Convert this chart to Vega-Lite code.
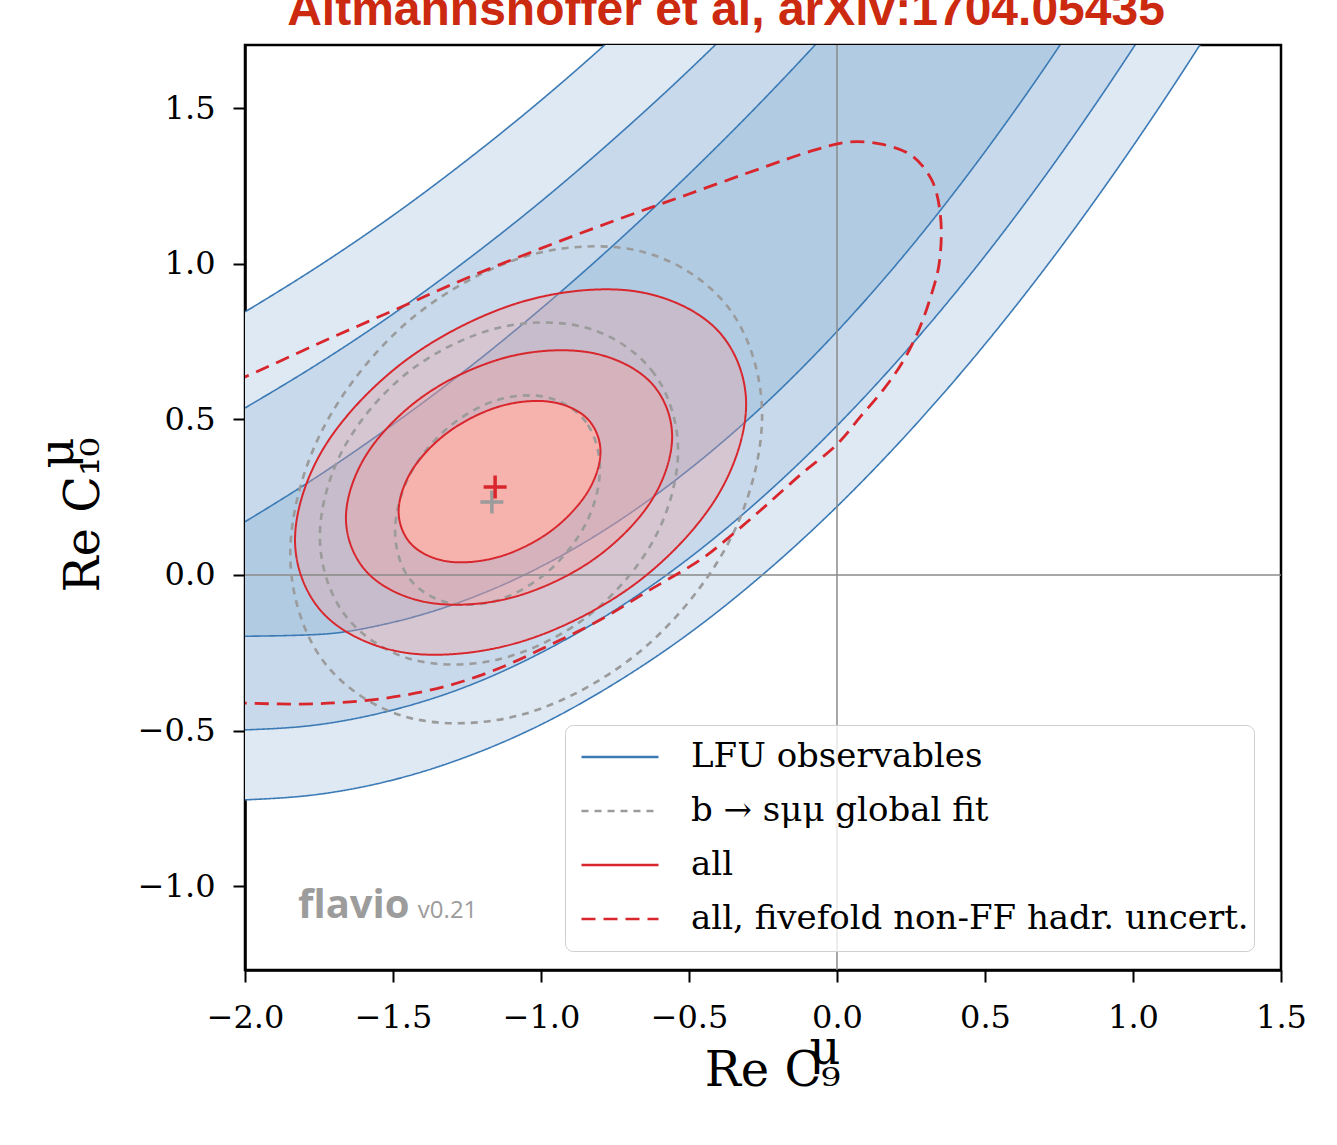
{
  "$schema": "https://vega.github.io/schema/vega-lite/v6.json",
  "width": 1036,
  "height": 925,
  "autosize": {"type": "none"},
  "padding": {"left": 245, "top": 45, "right": 56, "bottom": 175},
  "background": "white",
  "title": {
    "text": "Altmannshoffer et al, arXiv:1704.05435",
    "font": "Liberation Sans, Arial, sans-serif",
    "fontSize": 48,
    "fontWeight": "bold",
    "color": "#cc2a10",
    "anchor": "middle",
    "baseline": "alphabetic",
    "offset": 20,
    "dx": -37,
    "dy": 48
  },
  "config": {
    "view": {"stroke": "black", "strokeWidth": 2.5, "fill": "white"},
    "axis": {
      "labelFont": "DejaVu Serif", "labelFontSize": 32, "labelColor": "black",
      "labelFlush": false, "labelOverlap": false, "labelBound": false,
      "tickSize": 12, "tickWidth": 2, "tickColor": "black",
      "domain": true, "domainColor": "black", "domainWidth": 2.5,
      "grid": false, "zindex": 1,
      "titleFont": "DejaVu Serif", "titleFontSize": 48, "titleFontWeight": "normal", "titleColor": "black"
    },
    "legend": {
      "symbolType": "stroke", "symbolSize": 5929, "symbolStrokeWidth": 2.5,
      "clipHeight": 54, "rowPadding": 0, "padding": 5, "symbolOffset": 10,
      "labelFont": "DejaVu Serif", "labelFontSize": 34, "labelColor": "black",
      "labelOffset": 31, "labelLimit": 1000,
      "fillColor": "rgba(255,255,255,0.8)", "strokeColor": "#cfcfcf", "cornerRadius": 8
    }
  },
  "datasets": {
    "bands": [
      {"band": "outer", "x": -2.0, "y": -0.723, "y2": 0.846, "series": "LFU observables"},
      {"band": "outer", "x": -1.75, "y": -0.705, "y2": 0.994, "series": "LFU observables"},
      {"band": "outer", "x": -1.5, "y": -0.659, "y2": 1.156, "series": "LFU observables"},
      {"band": "outer", "x": -1.25, "y": -0.584, "y2": 1.334, "series": "LFU observables"},
      {"band": "outer", "x": -1.0, "y": -0.481, "y2": 1.526, "series": "LFU observables"},
      {"band": "outer", "x": -0.75, "y": -0.348, "y2": 1.734, "series": "LFU observables"},
      {"band": "outer", "x": -0.5, "y": -0.188, "y2": 1.956, "series": "LFU observables"},
      {"band": "outer", "x": -0.25, "y": 0.002, "y2": 2.194, "series": "LFU observables"},
      {"band": "outer", "x": 0.0, "y": 0.22, "y2": 2.446, "series": "LFU observables"},
      {"band": "outer", "x": 0.25, "y": 0.467, "y2": 2.714, "series": "LFU observables"},
      {"band": "outer", "x": 0.5, "y": 0.742, "y2": 2.996, "series": "LFU observables"},
      {"band": "outer", "x": 0.75, "y": 1.046, "y2": 3.294, "series": "LFU observables"},
      {"band": "outer", "x": 1.0, "y": 1.379, "y2": 3.606, "series": "LFU observables"},
      {"band": "outer", "x": 1.25, "y": 1.74, "y2": 3.934, "series": "LFU observables"},
      {"band": "outer", "x": 1.5, "y": 2.13, "y2": 4.276, "series": "LFU observables"},
      {"band": "middle", "x": -2.0, "y": -0.498, "y2": 0.537, "series": "LFU observables"},
      {"band": "middle", "x": -1.75, "y": -0.481, "y2": 0.681, "series": "LFU observables"},
      {"band": "middle", "x": -1.5, "y": -0.434, "y2": 0.839, "series": "LFU observables"},
      {"band": "middle", "x": -1.25, "y": -0.358, "y2": 1.013, "series": "LFU observables"},
      {"band": "middle", "x": -1.0, "y": -0.25, "y2": 1.201, "series": "LFU observables"},
      {"band": "middle", "x": -0.75, "y": -0.113, "y2": 1.405, "series": "LFU observables"},
      {"band": "middle", "x": -0.5, "y": 0.054, "y2": 1.623, "series": "LFU observables"},
      {"band": "middle", "x": -0.25, "y": 0.252, "y2": 1.857, "series": "LFU observables"},
      {"band": "middle", "x": 0.0, "y": 0.48, "y2": 2.105, "series": "LFU observables"},
      {"band": "middle", "x": 0.25, "y": 0.738, "y2": 2.369, "series": "LFU observables"},
      {"band": "middle", "x": 0.5, "y": 1.026, "y2": 2.647, "series": "LFU observables"},
      {"band": "middle", "x": 0.75, "y": 1.345, "y2": 2.941, "series": "LFU observables"},
      {"band": "middle", "x": 1.0, "y": 1.694, "y2": 3.249, "series": "LFU observables"},
      {"band": "middle", "x": 1.25, "y": 2.073, "y2": 3.573, "series": "LFU observables"},
      {"band": "middle", "x": 1.5, "y": 2.482, "y2": 3.911, "series": "LFU observables"},
      {"band": "inner", "x": -2.0, "y": -0.197, "y2": 0.171, "series": "LFU observables"},
      {"band": "inner", "x": -1.75, "y": -0.191, "y2": 0.32, "series": "LFU observables"},
      {"band": "inner", "x": -1.5, "y": -0.152, "y2": 0.484, "series": "LFU observables"},
      {"band": "inner", "x": -1.25, "y": -0.079, "y2": 0.662, "series": "LFU observables"},
      {"band": "inner", "x": -1.0, "y": 0.027, "y2": 0.856, "series": "LFU observables"},
      {"band": "inner", "x": -0.75, "y": 0.166, "y2": 1.065, "series": "LFU observables"},
      {"band": "inner", "x": -0.5, "y": 0.339, "y2": 1.289, "series": "LFU observables"},
      {"band": "inner", "x": -0.25, "y": 0.544, "y2": 1.527, "series": "LFU observables"},
      {"band": "inner", "x": 0.0, "y": 0.783, "y2": 1.781, "series": "LFU observables"},
      {"band": "inner", "x": 0.25, "y": 1.055, "y2": 2.05, "series": "LFU observables"},
      {"band": "inner", "x": 0.5, "y": 1.361, "y2": 2.334, "series": "LFU observables"},
      {"band": "inner", "x": 0.75, "y": 1.699, "y2": 2.632, "series": "LFU observables"},
      {"band": "inner", "x": 1.0, "y": 2.071, "y2": 2.946, "series": "LFU observables"},
      {"band": "inner", "x": 1.25, "y": 2.476, "y2": 3.275, "series": "LFU observables"},
      {"band": "inner", "x": 1.5, "y": 2.915, "y2": 3.619, "series": "LFU observables"}
    ],
    "ell": [
      {"id": "r1", "t": 0, "x": -0.799, "y": 0.396, "series": "all"},
      {"id": "r1", "t": 1, "x": -0.845, "y": 0.504, "series": "all"},
      {"id": "r1", "t": 2, "x": -0.970, "y": 0.557, "series": "all"},
      {"id": "r1", "t": 3, "x": -1.140, "y": 0.542, "series": "all"},
      {"id": "r1", "t": 4, "x": -1.311, "y": 0.461, "series": "all"},
      {"id": "r1", "t": 5, "x": -1.435, "y": 0.338, "series": "all"},
      {"id": "r1", "t": 6, "x": -1.481, "y": 0.204, "series": "all"},
      {"id": "r1", "t": 7, "x": -1.435, "y": 0.096, "series": "all"},
      {"id": "r1", "t": 8, "x": -1.311, "y": 0.043, "series": "all"},
      {"id": "r1", "t": 9, "x": -1.140, "y": 0.059, "series": "all"},
      {"id": "r1", "t": 10, "x": -0.970, "y": 0.139, "series": "all"},
      {"id": "r1", "t": 11, "x": -0.845, "y": 0.263, "series": "all"},
      {"id": "r2", "t": 0, "x": -0.557, "y": 0.445, "series": "all"},
      {"id": "r2", "t": 1, "x": -0.631, "y": 0.621, "series": "all"},
      {"id": "r2", "t": 2, "x": -0.833, "y": 0.715, "series": "all"},
      {"id": "r2", "t": 3, "x": -1.108, "y": 0.702, "series": "all"},
      {"id": "r2", "t": 4, "x": -1.384, "y": 0.584, "series": "all"},
      {"id": "r2", "t": 5, "x": -1.585, "y": 0.394, "series": "all"},
      {"id": "r2", "t": 6, "x": -1.659, "y": 0.183, "series": "all"},
      {"id": "r2", "t": 7, "x": -1.585, "y": 0.006, "series": "all"},
      {"id": "r2", "t": 8, "x": -1.384, "y": -0.088, "series": "all"},
      {"id": "r2", "t": 9, "x": -1.108, "y": -0.075, "series": "all"},
      {"id": "r2", "t": 10, "x": -0.833, "y": 0.043, "series": "all"},
      {"id": "r2", "t": 11, "x": -0.631, "y": 0.233, "series": "all"},
      {"id": "r3", "t": 0, "x": -0.307, "y": 0.549, "series": "all"},
      {"id": "r3", "t": 1, "x": -0.409, "y": 0.792, "series": "all"},
      {"id": "r3", "t": 2, "x": -0.688, "y": 0.913, "series": "all"},
      {"id": "r3", "t": 3, "x": -1.069, "y": 0.877, "series": "all"},
      {"id": "r3", "t": 4, "x": -1.450, "y": 0.695, "series": "all"},
      {"id": "r3", "t": 5, "x": -1.729, "y": 0.416, "series": "all"},
      {"id": "r3", "t": 6, "x": -1.831, "y": 0.113, "series": "all"},
      {"id": "r3", "t": 7, "x": -1.729, "y": -0.130, "series": "all"},
      {"id": "r3", "t": 8, "x": -1.450, "y": -0.251, "series": "all"},
      {"id": "r3", "t": 9, "x": -1.069, "y": -0.215, "series": "all"},
      {"id": "r3", "t": 10, "x": -0.688, "y": -0.033, "series": "all"},
      {"id": "r3", "t": 11, "x": -0.409, "y": 0.246, "series": "all"},
      {"id": "g1", "t": 0, "x": -0.801, "y": 0.342, "series": "b → sμμ global fit"},
      {"id": "g1", "t": 1, "x": -0.847, "y": 0.490, "series": "b → sμμ global fit"},
      {"id": "g1", "t": 2, "x": -0.974, "y": 0.570, "series": "b → sμμ global fit"},
      {"id": "g1", "t": 3, "x": -1.147, "y": 0.563, "series": "b → sμμ global fit"},
      {"id": "g1", "t": 4, "x": -1.320, "y": 0.469, "series": "b → sμμ global fit"},
      {"id": "g1", "t": 5, "x": -1.447, "y": 0.315, "series": "b → sμμ global fit"},
      {"id": "g1", "t": 6, "x": -1.493, "y": 0.140, "series": "b → sμμ global fit"},
      {"id": "g1", "t": 7, "x": -1.447, "y": -0.008, "series": "b → sμμ global fit"},
      {"id": "g1", "t": 8, "x": -1.320, "y": -0.088, "series": "b → sμμ global fit"},
      {"id": "g1", "t": 9, "x": -1.147, "y": -0.081, "series": "b → sμμ global fit"},
      {"id": "g1", "t": 10, "x": -0.974, "y": 0.013, "series": "b → sμμ global fit"},
      {"id": "g1", "t": 11, "x": -0.847, "y": 0.168, "series": "b → sμμ global fit"},
      {"id": "g2", "t": 0, "x": -0.537, "y": 0.400, "series": "b → sμμ global fit"},
      {"id": "g2", "t": 1, "x": -0.618, "y": 0.648, "series": "b → sμμ global fit"},
      {"id": "g2", "t": 2, "x": -0.840, "y": 0.793, "series": "b → sμμ global fit"},
      {"id": "g2", "t": 3, "x": -1.142, "y": 0.795, "series": "b → sμμ global fit"},
      {"id": "g2", "t": 4, "x": -1.445, "y": 0.655, "series": "b → sμμ global fit"},
      {"id": "g2", "t": 5, "x": -1.666, "y": 0.409, "series": "b → sμμ global fit"},
      {"id": "g2", "t": 6, "x": -1.747, "y": 0.124, "series": "b → sμμ global fit"},
      {"id": "g2", "t": 7, "x": -1.666, "y": -0.124, "series": "b → sμμ global fit"},
      {"id": "g2", "t": 8, "x": -1.445, "y": -0.269, "series": "b → sμμ global fit"},
      {"id": "g2", "t": 9, "x": -1.142, "y": -0.271, "series": "b → sμμ global fit"},
      {"id": "g2", "t": 10, "x": -0.840, "y": -0.131, "series": "b → sμμ global fit"},
      {"id": "g2", "t": 11, "x": -0.618, "y": 0.115, "series": "b → sμμ global fit"},
      {"id": "g3", "t": 0, "x": -0.253, "y": 0.513, "series": "b → sμμ global fit"},
      {"id": "g3", "t": 1, "x": -0.360, "y": 0.851, "series": "b → sμμ global fit"},
      {"id": "g3", "t": 2, "x": -0.652, "y": 1.038, "series": "b → sμμ global fit"},
      {"id": "g3", "t": 3, "x": -1.050, "y": 1.025, "series": "b → sμμ global fit"},
      {"id": "g3", "t": 4, "x": -1.449, "y": 0.815, "series": "b → sμμ global fit"},
      {"id": "g3", "t": 5, "x": -1.740, "y": 0.464, "series": "b → sμμ global fit"},
      {"id": "g3", "t": 6, "x": -1.847, "y": 0.067, "series": "b → sμμ global fit"},
      {"id": "g3", "t": 7, "x": -1.740, "y": -0.271, "series": "b → sμμ global fit"},
      {"id": "g3", "t": 8, "x": -1.449, "y": -0.458, "series": "b → sμμ global fit"},
      {"id": "g3", "t": 9, "x": -1.050, "y": -0.445, "series": "b → sμμ global fit"},
      {"id": "g3", "t": 10, "x": -0.652, "y": -0.235, "series": "b → sμμ global fit"},
      {"id": "g3", "t": 11, "x": -0.360, "y": 0.116, "series": "b → sμμ global fit"}
    ],
    "ff": [
      {"i": 0, "x": -2.10, "y": 0.600, "series": "all, fivefold non-FF hadr. uncert."},
      {"i": 1, "x": -2.00, "y": 0.637, "series": "all, fivefold non-FF hadr. uncert."},
      {"i": 2, "x": -1.75, "y": 0.745, "series": "all, fivefold non-FF hadr. uncert."},
      {"i": 3, "x": -1.50, "y": 0.850, "series": "all, fivefold non-FF hadr. uncert."},
      {"i": 4, "x": -1.25, "y": 0.955, "series": "all, fivefold non-FF hadr. uncert."},
      {"i": 5, "x": -1.00, "y": 1.050, "series": "all, fivefold non-FF hadr. uncert."},
      {"i": 6, "x": -0.75, "y": 1.140, "series": "all, fivefold non-FF hadr. uncert."},
      {"i": 7, "x": -0.50, "y": 1.225, "series": "all, fivefold non-FF hadr. uncert."},
      {"i": 8, "x": -0.25, "y": 1.310, "series": "all, fivefold non-FF hadr. uncert."},
      {"i": 9, "x": -0.08, "y": 1.365, "series": "all, fivefold non-FF hadr. uncert."},
      {"i": 10, "x": 0.04, "y": 1.392, "series": "all, fivefold non-FF hadr. uncert."},
      {"i": 11, "x": 0.15, "y": 1.385, "series": "all, fivefold non-FF hadr. uncert."},
      {"i": 12, "x": 0.25, "y": 1.350, "series": "all, fivefold non-FF hadr. uncert."},
      {"i": 13, "x": 0.32, "y": 1.270, "series": "all, fivefold non-FF hadr. uncert."},
      {"i": 14, "x": 0.35, "y": 1.150, "series": "all, fivefold non-FF hadr. uncert."},
      {"i": 15, "x": 0.345, "y": 1.000, "series": "all, fivefold non-FF hadr. uncert."},
      {"i": 16, "x": 0.315, "y": 0.890, "series": "all, fivefold non-FF hadr. uncert."},
      {"i": 17, "x": 0.275, "y": 0.785, "series": "all, fivefold non-FF hadr. uncert."},
      {"i": 18, "x": 0.225, "y": 0.690, "series": "all, fivefold non-FF hadr. uncert."},
      {"i": 19, "x": 0.16, "y": 0.600, "series": "all, fivefold non-FF hadr. uncert."},
      {"i": 20, "x": 0.08, "y": 0.510, "series": "all, fivefold non-FF hadr. uncert."},
      {"i": 21, "x": 0.0, "y": 0.420, "series": "all, fivefold non-FF hadr. uncert."},
      {"i": 22, "x": -0.12, "y": 0.325, "series": "all, fivefold non-FF hadr. uncert."},
      {"i": 23, "x": -0.25, "y": 0.215, "series": "all, fivefold non-FF hadr. uncert."},
      {"i": 24, "x": -0.36, "y": 0.125, "series": "all, fivefold non-FF hadr. uncert."},
      {"i": 25, "x": -0.46, "y": 0.050, "series": "all, fivefold non-FF hadr. uncert."},
      {"i": 26, "x": -0.632, "y": -0.048, "series": "all, fivefold non-FF hadr. uncert."},
      {"i": 27, "x": -0.801, "y": -0.145, "series": "all, fivefold non-FF hadr. uncert."},
      {"i": 28, "x": -0.970, "y": -0.225, "series": "all, fivefold non-FF hadr. uncert."},
      {"i": 29, "x": -1.139, "y": -0.299, "series": "all, fivefold non-FF hadr. uncert."},
      {"i": 30, "x": -1.307, "y": -0.354, "series": "all, fivefold non-FF hadr. uncert."},
      {"i": 31, "x": -1.476, "y": -0.389, "series": "all, fivefold non-FF hadr. uncert."},
      {"i": 32, "x": -1.645, "y": -0.408, "series": "all, fivefold non-FF hadr. uncert."},
      {"i": 33, "x": -1.814, "y": -0.415, "series": "all, fivefold non-FF hadr. uncert."},
      {"i": 34, "x": -2.00, "y": -0.412, "series": "all, fivefold non-FF hadr. uncert."},
      {"i": 35, "x": -2.10, "y": -0.410, "series": "all, fivefold non-FF hadr. uncert."}
    ],
    "best": [
      {"kind": "fit", "x": -1.166, "y": 0.235},
      {"kind": "all", "x": -1.155, "y": 0.283}
    ]
  },
  "layer": [
    {
      "data": {"name": "bands"},
      "transform": [{"filter": "datum.band === 'outer'"}],
      "mark": {"type": "area", "interpolate": "monotone", "fill": "#dee9f4", "clip": true},
      "encoding": {
        "x": {"field": "x", "type": "quantitative", "scale": {"domain": [-2, 1.5], "nice": false, "zero": false},
          "axis": {"values": [-2, -1.5, -1, -0.5, 0, 0.5, 1, 1.5], "format": ".1f", "labelPadding": 20,
            "title": ["μ", "Re C₉"],
            "titleX": 595, "titleY": 93, "titleBaseline": "alphabetic", "titleLineHeight": 22, "titleAlign": "right"}},
        "y": {"field": "y", "type": "quantitative", "scale": {"domain": [-1.27, 1.704], "nice": false, "zero": false},
          "axis": {"values": [-1, -0.5, 0, 0.5, 1, 1.5], "format": ".1f", "labelPadding": 18,
            "title": ["μ", "Re C₁₀"],
            "titleX": -173, "titleY": 392, "titleAngle": -90, "titleBaseline": "alphabetic", "titleLineHeight": 26, "titleAlign": "right"}},
        "y2": {"field": "y2"}
      }
    },
    {
      "data": {"name": "bands"},
      "transform": [{"filter": "datum.band === 'middle'"}],
      "mark": {"type": "area", "interpolate": "monotone", "fill": "#c7d9eb", "clip": true},
      "encoding": {
        "x": {"field": "x", "type": "quantitative", "scale": {"domain": [-2, 1.5], "nice": false, "zero": false}},
        "y": {"field": "y", "type": "quantitative", "scale": {"domain": [-1.27, 1.704], "nice": false, "zero": false}},
        "y2": {"field": "y2"}
      }
    },
    {
      "data": {"name": "bands"},
      "transform": [{"filter": "datum.band === 'inner'"}],
      "mark": {"type": "area", "interpolate": "monotone", "fill": "#b1cbe3", "clip": true},
      "encoding": {
        "x": {"field": "x", "type": "quantitative", "scale": {"domain": [-2, 1.5], "nice": false, "zero": false}},
        "y": {"field": "y", "type": "quantitative", "scale": {"domain": [-1.27, 1.704], "nice": false, "zero": false}},
        "y2": {"field": "y2"}
      }
    },
    {
      "data": {"name": "bands"},
      "mark": {"type": "line", "interpolate": "monotone", "strokeWidth": 1.6, "clip": true},
      "encoding": {
        "x": {"field": "x", "type": "quantitative", "scale": {"domain": [-2, 1.5], "nice": false, "zero": false}},
        "y": {"field": "y", "type": "quantitative", "scale": {"domain": [-1.27, 1.704], "nice": false, "zero": false}},
        "detail": {"field": "band"},
        "color": {"field": "series", "type": "nominal",
          "scale": {"domain": ["LFU observables", "b → sμμ global fit", "all", "all, fivefold non-FF hadr. uncert."], "range": ["#3b7ab5", "#9b9b9b", "#d8262c", "#d8262c"]},
          "legend": {"orient": "none", "legendX": 320, "legendY": 680, "title": null}},
        "strokeDash": {"field": "series", "type": "nominal",
          "scale": {"domain": ["LFU observables", "b → sμμ global fit", "all", "all, fivefold non-FF hadr. uncert."], "range": [[1, 0], [7, 6], [1, 0], [14, 8]]},
          "legend": {"orient": "none", "legendX": 320, "legendY": 680, "title": null}}
      }
    },
    {
      "data": {"name": "bands"},
      "mark": {"type": "line", "interpolate": "monotone", "strokeWidth": 1.6, "clip": true},
      "encoding": {
        "x": {"field": "x", "type": "quantitative", "scale": {"domain": [-2, 1.5], "nice": false, "zero": false}},
        "y": {"field": "y2", "type": "quantitative", "scale": {"domain": [-1.27, 1.704], "nice": false, "zero": false}},
        "detail": {"field": "band"},
        "color": {"field": "series", "type": "nominal",
          "scale": {"domain": ["LFU observables", "b → sμμ global fit", "all", "all, fivefold non-FF hadr. uncert."], "range": ["#3b7ab5", "#9b9b9b", "#d8262c", "#d8262c"]},
          "legend": {"orient": "none", "legendX": 320, "legendY": 680, "title": null}},
        "strokeDash": {"field": "series", "type": "nominal",
          "scale": {"domain": ["LFU observables", "b → sμμ global fit", "all", "all, fivefold non-FF hadr. uncert."], "range": [[1, 0], [7, 6], [1, 0], [14, 8]]},
          "legend": {"orient": "none", "legendX": 320, "legendY": 680, "title": null}}
      }
    },
    {
      "data": {"name": "ell"},
      "transform": [{"filter": "datum.id === 'r3' || datum.id === 'r2'"}],
      "mark": {"type": "line", "interpolate": "cardinal-closed", "fill": "#f89d98", "fillOpacity": 0.3, "strokeWidth": 0, "strokeOpacity": 0, "clip": true},
      "encoding": {
        "x": {"field": "x", "type": "quantitative", "scale": {"domain": [-2, 1.5], "nice": false, "zero": false}},
        "y": {"field": "y", "type": "quantitative", "scale": {"domain": [-1.27, 1.704], "nice": false, "zero": false}},
        "detail": {"field": "id"},
        "order": {"field": "t"}
      }
    },
    {
      "data": {"name": "ell"},
      "transform": [{"filter": "datum.id === 'r1'"}],
      "mark": {"type": "line", "interpolate": "cardinal-closed", "fill": "#fcb1a9", "fillOpacity": 0.85, "strokeWidth": 0, "strokeOpacity": 0, "clip": true},
      "encoding": {
        "x": {"field": "x", "type": "quantitative", "scale": {"domain": [-2, 1.5], "nice": false, "zero": false}},
        "y": {"field": "y", "type": "quantitative", "scale": {"domain": [-1.27, 1.704], "nice": false, "zero": false}},
        "detail": {"field": "id"},
        "order": {"field": "t"}
      }
    },
    {
      "data": {"values": [{}]},
      "mark": {"type": "rule", "color": "#8a8a8a", "strokeWidth": 1.5, "clip": true},
      "encoding": {"x": {"datum": 0, "type": "quantitative", "scale": {"domain": [-2, 1.5], "nice": false, "zero": false}}}
    },
    {
      "data": {"values": [{}]},
      "mark": {"type": "rule", "color": "#8a8a8a", "strokeWidth": 1.5, "clip": true},
      "encoding": {"y": {"datum": 0, "type": "quantitative", "scale": {"domain": [-1.27, 1.704], "nice": false, "zero": false}}}
    },
    {
      "data": {"name": "ell"},
      "transform": [{"filter": "datum.series === 'b → sμμ global fit'"}],
      "mark": {"type": "line", "interpolate": "cardinal-closed", "strokeWidth": 2.6, "clip": true},
      "encoding": {
        "x": {"field": "x", "type": "quantitative", "scale": {"domain": [-2, 1.5], "nice": false, "zero": false}},
        "y": {"field": "y", "type": "quantitative", "scale": {"domain": [-1.27, 1.704], "nice": false, "zero": false}},
        "detail": {"field": "id"},
        "order": {"field": "t"},
        "color": {"field": "series", "type": "nominal",
          "scale": {"domain": ["LFU observables", "b → sμμ global fit", "all", "all, fivefold non-FF hadr. uncert."], "range": ["#3b7ab5", "#9b9b9b", "#d8262c", "#d8262c"]},
          "legend": {"orient": "none", "legendX": 320, "legendY": 680, "title": null}},
        "strokeDash": {"field": "series", "type": "nominal",
          "scale": {"domain": ["LFU observables", "b → sμμ global fit", "all", "all, fivefold non-FF hadr. uncert."], "range": [[1, 0], [7, 6], [1, 0], [14, 8]]},
          "legend": {"orient": "none", "legendX": 320, "legendY": 680, "title": null}}
      }
    },
    {
      "data": {"name": "ell"},
      "transform": [{"filter": "datum.series === 'all'"}],
      "mark": {"type": "line", "interpolate": "cardinal-closed", "strokeWidth": 2, "clip": true},
      "encoding": {
        "x": {"field": "x", "type": "quantitative", "scale": {"domain": [-2, 1.5], "nice": false, "zero": false}},
        "y": {"field": "y", "type": "quantitative", "scale": {"domain": [-1.27, 1.704], "nice": false, "zero": false}},
        "detail": {"field": "id"},
        "order": {"field": "t"},
        "color": {"field": "series", "type": "nominal",
          "scale": {"domain": ["LFU observables", "b → sμμ global fit", "all", "all, fivefold non-FF hadr. uncert."], "range": ["#3b7ab5", "#9b9b9b", "#d8262c", "#d8262c"]},
          "legend": {"orient": "none", "legendX": 320, "legendY": 680, "title": null}},
        "strokeDash": {"field": "series", "type": "nominal",
          "scale": {"domain": ["LFU observables", "b → sμμ global fit", "all", "all, fivefold non-FF hadr. uncert."], "range": [[1, 0], [7, 6], [1, 0], [14, 8]]},
          "legend": {"orient": "none", "legendX": 320, "legendY": 680, "title": null}}
      }
    },
    {
      "data": {"name": "ff"},
      "mark": {"type": "line", "interpolate": "catmull-rom", "strokeWidth": 2.8, "clip": true},
      "encoding": {
        "x": {"field": "x", "type": "quantitative", "scale": {"domain": [-2, 1.5], "nice": false, "zero": false}},
        "y": {"field": "y", "type": "quantitative", "scale": {"domain": [-1.27, 1.704], "nice": false, "zero": false}},
        "order": {"field": "i"},
        "color": {"field": "series", "type": "nominal",
          "scale": {"domain": ["LFU observables", "b → sμμ global fit", "all", "all, fivefold non-FF hadr. uncert."], "range": ["#3b7ab5", "#9b9b9b", "#d8262c", "#d8262c"]},
          "legend": {"orient": "none", "legendX": 320, "legendY": 680, "title": null}},
        "strokeDash": {"field": "series", "type": "nominal",
          "scale": {"domain": ["LFU observables", "b → sμμ global fit", "all", "all, fivefold non-FF hadr. uncert."], "range": [[1, 0], [7, 6], [1, 0], [14, 8]]},
          "legend": {"orient": "none", "legendX": 320, "legendY": 680, "title": null}}
      }
    },
    {
      "data": {"name": "best"},
      "transform": [{"filter": "datum.kind === 'fit'"}],
      "mark": {"type": "point", "shape": "M-1,0L1,0M0,-1L0,1", "size": 529, "filled": false, "stroke": "#9b9b9b", "strokeWidth": 3.5, "opacity": 1},
      "encoding": {
        "x": {"field": "x", "type": "quantitative", "scale": {"domain": [-2, 1.5], "nice": false, "zero": false}},
        "y": {"field": "y", "type": "quantitative", "scale": {"domain": [-1.27, 1.704], "nice": false, "zero": false}}
      }
    },
    {
      "data": {"name": "best"},
      "transform": [{"filter": "datum.kind === 'all'"}],
      "mark": {"type": "point", "shape": "M-1,0L1,0M0,-1L0,1", "size": 529, "filled": false, "stroke": "#d8262c", "strokeWidth": 3.5, "opacity": 1},
      "encoding": {
        "x": {"field": "x", "type": "quantitative", "scale": {"domain": [-2, 1.5], "nice": false, "zero": false}},
        "y": {"field": "y", "type": "quantitative", "scale": {"domain": [-1.27, 1.704], "nice": false, "zero": false}}
      }
    },
    {
      "data": {"values": [{}]},
      "mark": {"type": "text", "text": "flavio", "font": "Open Sans", "fontWeight": "bold", "fontSize": 40, "color": "#9c9c9c", "align": "left", "baseline": "alphabetic"},
      "encoding": {
        "x": {"datum": -1.821, "type": "quantitative", "scale": {"domain": [-2, 1.5], "nice": false, "zero": false}},
        "y": {"datum": -1.103, "type": "quantitative", "scale": {"domain": [-1.27, 1.704], "nice": false, "zero": false}}
      }
    },
    {
      "data": {"values": [{}]},
      "mark": {"type": "text", "text": "v0.21", "font": "Open Sans", "fontSize": 24, "color": "#9c9c9c", "align": "left", "baseline": "alphabetic"},
      "encoding": {
        "x": {"datum": -1.416, "type": "quantitative", "scale": {"domain": [-2, 1.5], "nice": false, "zero": false}},
        "y": {"datum": -1.103, "type": "quantitative", "scale": {"domain": [-1.27, 1.704], "nice": false, "zero": false}}
      }
    }
  ]
}
